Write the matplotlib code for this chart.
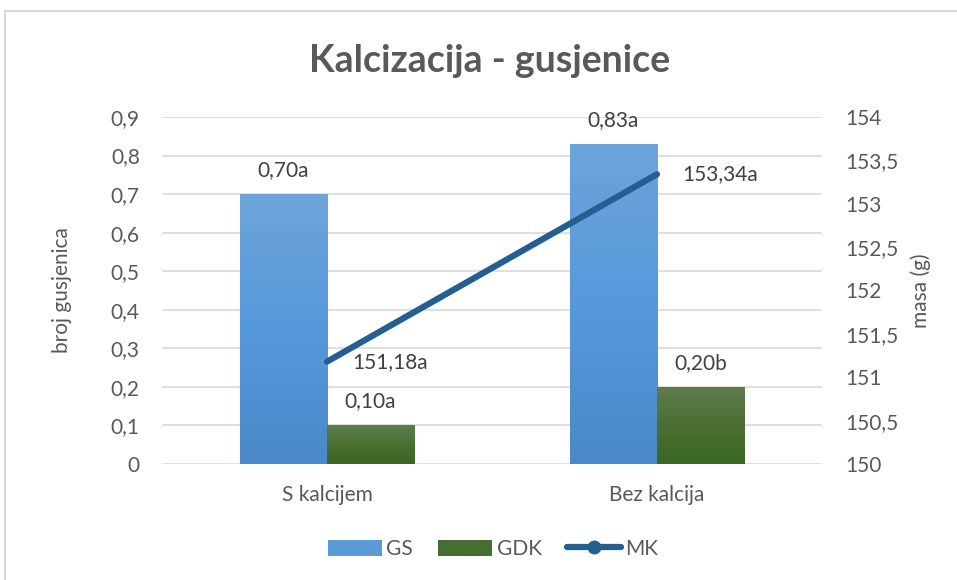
import matplotlib
matplotlib.use("Agg")
import matplotlib.pyplot as plt
import numpy as np
from matplotlib.lines import Line2D
from matplotlib.patches import Patch
from matplotlib.colors import LinearSegmentedColormap

categories = ["S kalcijem", "Bez kalcija"]
gs_values = [0.70, 0.83]
gdk_values = [0.10, 0.20]
mk_values = [151.18, 153.34]
gs_labels = ["0,70a", "0,83a"]
gdk_labels = ["0,10a", "0,20b"]
mk_labels = ["151,18a", "153,34a"]
left_ticks = [0, 0.1, 0.2, 0.3, 0.4, 0.5, 0.6, 0.7, 0.8, 0.9]
left_ticklabels = ["0", "0,1", "0,2", "0,3", "0,4", "0,5", "0,6", "0,7", "0,8", "0,9"]
right_ticks = [150, 150.5, 151, 151.5, 152, 152.5, 153, 153.5, 154]
right_ticklabels = ["150", "150,5", "151", "151,5", "152", "152,5", "153", "153,5", "154"]

plt.rcParams['font.family'] = ['Lato', 'DejaVu Sans']
TXT = "#595959"
LBL = "#404040"
FS = 15

W, H = 957, 580
fig = plt.figure(figsize=(W / 100, H / 100), dpi=100)
fig.patch.set_facecolor("white")

# chart border (top and left visible)
fig.add_artist(Line2D([5 / W, 5 / W], [0, 1 - 11 / H], color="#D9D9D9", lw=1.5, transform=fig.transFigure))
fig.add_artist(Line2D([5 / W, 1], [1 - 11 / H, 1 - 11 / H], color="#D9D9D9", lw=1.5, transform=fig.transFigure))

ax = fig.add_axes([162 / W, 1 - 464 / H, 660 / W, (464 - 117) / H])
ax2 = ax.twinx()

x = np.arange(len(categories))
bw = 0.264

gs_cmap = LinearSegmentedColormap.from_list("gs", ["#4A88C8", "#5699DC", "#6EA4D9"])
gdk_cmap = LinearSegmentedColormap.from_list("gdk", ["#3B6622", "#4A6F33", "#5E7D4E"])

def grad_bars(xpos, vals, cmap, base):
    bars = ax.bar(xpos, vals, bw, color=base, zorder=2, linewidth=0)
    grad = np.linspace(0, 1, 256).reshape(-1, 1)
    for p in bars:
        bx, by = p.get_x(), p.get_y()
        w, h = p.get_width(), p.get_height()
        im = ax.imshow(grad, extent=[bx, bx + w, by, by + h], origin="lower",
                       aspect="auto", cmap=cmap, zorder=2.1)
        im.set_clip_path(p)
    return bars

grad_bars(x - bw / 2, gs_values, gs_cmap, "#5B9BD5")
grad_bars(x + bw / 2, gdk_values, gdk_cmap, "#4A6F33")

ax.set_xlim(-0.5, 1.5)
ax.set_ylim(0, 0.9)
ax.set_yticks(left_ticks)
ax.set_yticklabels(left_ticklabels)
ax.set_xticks(x)
ax.set_xticklabels(categories)
ax.grid(axis="y", color="#D9D9D9", lw=1.2)
ax.set_axisbelow(True)
for s in ax.spines.values():
    s.set_visible(False)
ax.tick_params(axis="both", length=0, labelsize=FS, labelcolor=TXT)
ax.tick_params(axis="y", pad=16)
ax.tick_params(axis="x", pad=15)
ax.set_ylabel("broj gusjenica", fontsize=FS, color=TXT, labelpad=28)

for xi, v, t in zip(x - bw / 2, gs_values, gs_labels):
    ax.annotate(t, (xi, v), xytext=(0, 24), textcoords="offset pixels",
                ha="center", va="center", fontsize=FS, color=LBL, zorder=5)
for xi, v, t in zip(x + bw / 2, gdk_values, gdk_labels):
    ax.annotate(t, (xi, v), xytext=(0, 24), textcoords="offset pixels",
                ha="center", va="center", fontsize=FS, color=LBL, zorder=5)

ax2.plot(x, mk_values, color="#255E91", lw=4.5, solid_capstyle="round", zorder=3)
ax2.set_ylim(150, 154)
ax2.set_yticks(right_ticks)
ax2.set_yticklabels(right_ticklabels)
for s in ax2.spines.values():
    s.set_visible(False)
ax2.tick_params(axis="y", length=0, labelsize=FS, labelcolor=TXT, pad=17)
ax2.set_ylabel("masa (g)", fontsize=FS, color=TXT, labelpad=8)
for xi, v, t in zip(x, mk_values, mk_labels):
    ax2.annotate(t, (xi, v), xytext=(25, 0), textcoords="offset pixels",
                 ha="left", va="center", fontsize=FS, color=LBL, zorder=5)

fig.text(490 / W, 1 - 61 / H, "Kalcizacija - gusjenice", ha="center", va="center",
         fontsize=27, fontweight="bold", color=TXT)

handles = [Patch(facecolor="#5B9BD5", edgecolor="none"),
           Patch(facecolor="#466E30", edgecolor="none"),
           Line2D([0], [0], color="#255E91", lw=4.5, marker="o", markersize=9,
                  solid_capstyle="round")]
fig.legend(handles, ["GS", "GDK", "MK"], loc="center", bbox_to_anchor=(493 / W, 1 - 549 / H),
           ncol=3, frameon=False, fontsize=FS, labelcolor=TXT, handlelength=2.6,
           handleheight=0.8, handletextpad=0.2, columnspacing=1.2)

fig.savefig("out.png", dpi=100)
